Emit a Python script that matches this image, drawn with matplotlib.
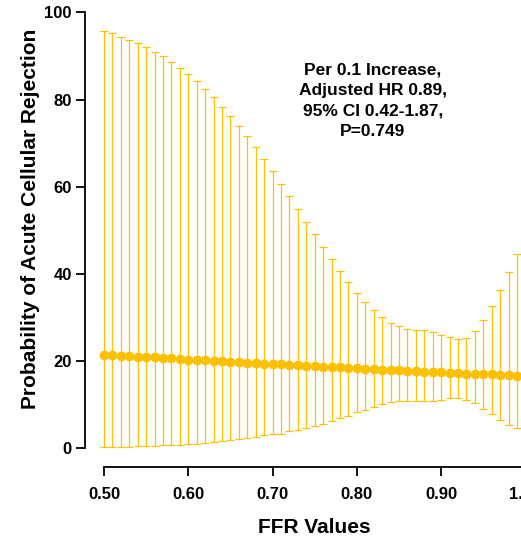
import matplotlib
matplotlib.use("Agg")
import matplotlib.pyplot as plt
import numpy as np

plt.rcParams['font.family'] = ['Liberation Sans', 'DejaVu Sans']
plt.rcParams['font.weight'] = 'bold'

# FFR values 0.50 .. 1.00
ffr = [0.50, 0.51, 0.52, 0.53, 0.54, 0.55, 0.56, 0.57, 0.58, 0.59,
       0.60, 0.61, 0.62, 0.63, 0.64, 0.65, 0.66, 0.67, 0.68, 0.69,
       0.70, 0.71, 0.72, 0.73, 0.74, 0.75, 0.76, 0.77, 0.78, 0.79,
       0.80, 0.81, 0.82, 0.83, 0.84, 0.85, 0.86, 0.87, 0.88, 0.89,
       0.90, 0.91, 0.92, 0.93, 0.94, 0.95, 0.96, 0.97, 0.98, 0.99,
       1.00]

# predicted probability (%)
prob = [21.4, 21.3, 21.2, 21.1, 21.0, 20.9, 20.8, 20.7, 20.6, 20.5,
        20.3, 20.2, 20.1, 20.0, 19.9, 19.8, 19.7, 19.6, 19.5, 19.4,
        19.3, 19.2, 19.1, 19.0, 18.9, 18.8, 18.7, 18.6, 18.5, 18.4,
        18.3, 18.2, 18.1, 18.0, 17.9, 17.8, 17.7, 17.6, 17.5, 17.4,
        17.4, 17.3, 17.2, 17.1, 17.0, 16.9, 16.9, 16.8, 16.7, 16.6,
        16.5]

# 95% CI bounds
ci_upper = [95.7, 95.2, 94.4, 93.6, 92.9, 92.1, 91.0, 89.9, 88.6, 87.3,
            85.8, 84.2, 82.4, 80.5, 78.4, 76.3, 74.0, 71.7, 69.1, 66.4,
            63.5, 60.6, 57.8, 54.8, 52.0, 49.1, 46.2, 43.3, 40.7, 38.1,
            35.7, 33.6, 31.6, 30.0, 28.6, 27.9, 27.3, 27.0, 27.0, 26.6,
            26.0, 25.5, 25.0, 25.2, 26.8, 29.4, 32.6, 36.3, 40.4, 44.5,
            48.7]
ci_lower = [0.2, 0.2, 0.2, 0.3, 0.4, 0.4, 0.5, 0.6, 0.7, 0.8,
            0.9, 1.0, 1.2, 1.4, 1.6, 1.8, 2.0, 2.3, 2.6, 2.9,
            3.1, 3.3, 3.8, 4.1, 4.5, 5.1, 5.6, 6.1, 6.9, 7.4,
            8.2, 8.8, 9.5, 10.1, 10.6, 10.9, 10.9, 10.9, 10.9, 10.9,
            11.1, 11.4, 11.4, 11.1, 10.4, 9.0, 7.8, 6.5, 5.3, 4.5,
            3.8]

x_ticks = [0.50, 0.60, 0.70, 0.80, 0.90, 1.00]
x_ticklabels = ['0.50', '0.60', '0.70', '0.80', '0.90', '1.00']
y_ticks = [0, 20, 40, 60, 80, 100]

note = 'Per 0.1 Increase,\nAdjusted HR 0.89,\n95% CI 0.42-1.87,\nP=0.749'

gold = '#FFC000'

fig = plt.figure(figsize=(5.21, 5.40), dpi=100)
# axes runs past the right edge on purpose, the 1.00 end is cut off
ax = fig.add_axes([0.1631, 0.1352, 0.8733, 0.8417])

prob_arr = np.array(prob)
yerr = [prob_arr - np.array(ci_lower), np.array(ci_upper) - prob_arr]
ax.errorbar(ffr, prob, yerr=yerr, fmt='o', color=gold, ecolor=gold,
            markersize=6, elinewidth=0.9, capsize=2.8, capthick=0.9,
            clip_on=False)

ax.set_xlim(0.47746, 1.0172)
ax.set_ylim(-4.363, 100)

for side in ['top', 'right']:
    ax.spines[side].set_visible(False)
ax.spines['left'].set_bounds(0, 100)
ax.spines['bottom'].set_bounds(0.50, 1.00)
for side in ['left', 'bottom']:
    ax.spines[side].set_linewidth(1.3)

ax.set_xticks(x_ticks)
ax.set_xticklabels(x_ticklabels)
ax.set_yticks(y_ticks)
ax.tick_params(axis='both', labelsize=12, width=1.3, length=6.5)
ax.tick_params(axis='x', pad=8)
ax.tick_params(axis='y', pad=3)
for lbl in ax.get_xticklabels() + ax.get_yticklabels():
    lbl.set_fontweight('bold')

ax.set_xlabel('FFR Values', fontsize=15, fontweight='bold')
ax.xaxis.set_label_coords(0.505, -0.112)
ax.set_ylabel('Probability of Acute Cellular Rejection', fontsize=15,
              fontweight='bold')
ax.yaxis.set_label_coords(-0.099, 0.546)

ax.text(0.819, 79.8, note, ha='center', va='center', multialignment='center',
        fontsize=12.5, fontweight='bold', linespacing=1.45)

fig.savefig('out.png', dpi=100)
